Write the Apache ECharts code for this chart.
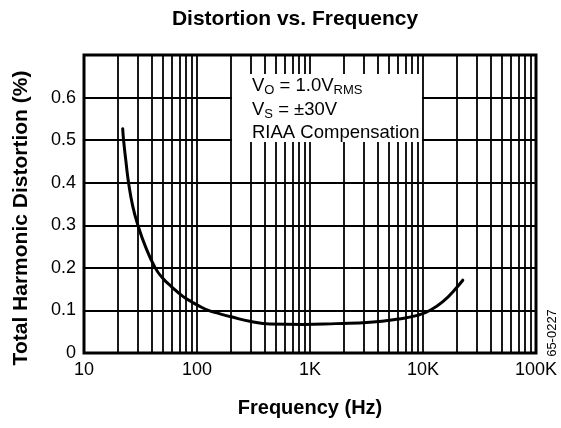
<!DOCTYPE html>
<html>
<head>
<meta charset="utf-8">
<script src="https://cdn.jsdelivr.net/npm/echarts@6/dist/echarts.min.js"></script>
<style>
html,body{margin:0;padding:0;background:#fff;}
#c{width:561px;height:428px;}
</style>
</head>
<body>
<div id="c"></div>
<script>
// ---- data ----
const freqHz = [22, 22.4, 23.5, 24.8, 27, 30, 35, 42.7, 50, 60, 75, 90, 100, 126, 160, 200, 300, 440, 870, 1700, 3400, 6100, 9100, 11700, 15500, 19000, 22500];
const thdPct = [0.527, 0.50, 0.45, 0.40, 0.345, 0.30, 0.25, 0.20, 0.175, 0.155, 0.133, 0.12, 0.113, 0.10, 0.092, 0.085, 0.074, 0.068, 0.067, 0.069, 0.072, 0.08, 0.089, 0.101, 0.124, 0.148, 0.171];

const xTickValues = [10, 100, 1000, 10000, 100000];
const xTickLabels = ['10', '100', '1K', '10K', '100K'];
const yTickValues = [0, 0.1, 0.2, 0.3, 0.4, 0.5, 0.6];
const yTickLabels = ['0', '0.1', '0.2', '0.3', '0.4', '0.5', '0.6'];

const decades = [10, 100, 1000, 10000];
const minorMultipliers = [2, 3, 4, 5, 6, 7, 8, 9];

const titleText = 'Distortion vs. Frequency';
const xName = 'Frequency (Hz)';
const yName = 'Total Harmonic Distortion (%)';
const docId = '65-0227';

// ---- build ----
const minorLines = [];
decades.forEach(d => minorMultipliers.forEach(m => minorLines.push({ xAxis: d * m })));

const FONT = '"Liberation Sans", Arial, Helvetica, sans-serif';
const chart = echarts.init(document.getElementById('c'), null, { renderer: 'canvas' });

const gridStyle = { color: '#000', width: 1.8, type: 'solid' };

function txt(str, x, baseline, size) {
  return {
    type: 'text', z: 101, x: x, y: baseline - 0.32 * size,
    style: { text: str, font: size + 'px ' + FONT, fill: '#000', verticalAlign: 'middle', align: 'left' }
  };
}

chart.setOption({
  animation: false,
  backgroundColor: '#fff',
  title: {
    text: titleText,
    left: 290,
    top: 4,
    textAlign: 'center',
    textStyle: { fontFamily: FONT, fontSize: 21, fontWeight: 'bold', color: '#000' }
  },
  grid: {
    left: 84, right: 25, top: 55, bottom: 75,
    show: true, borderColor: '#000', borderWidth: 3, backgroundColor: 'transparent'
  },
  xAxis: {
    type: 'log', logBase: 10, min: 10, max: 100000,
    name: xName, nameLocation: 'middle', nameGap: 45,
    nameTextStyle: { fontFamily: FONT, fontSize: 20, fontWeight: 'bold', color: '#000' },
    axisLine: { show: false }, axisTick: { show: false },
    axisLabel: {
      fontFamily: FONT, fontSize: 18, color: '#000', margin: 8,
      formatter: v => {
        const i = xTickValues.findIndex(t => Math.abs(t - v) / t < 1e-6);
        return i >= 0 ? xTickLabels[i] : '';
      }
    },
    splitLine: { show: true, lineStyle: gridStyle }
  },
  yAxis: {
    type: 'value', min: 0, max: 0.7, interval: 0.1,
    name: yName, nameLocation: 'middle', nameGap: 52,
    nameTextStyle: { fontFamily: FONT, fontSize: 21, fontWeight: 'bold', color: '#000', padding: [0, 0, 0, -28] },
    axisLine: { show: false }, axisTick: { show: false },
    axisLabel: {
      fontFamily: FONT, fontSize: 18, color: '#000', margin: 8,
      formatter: v => {
        const i = yTickValues.findIndex(t => Math.abs(t - v) < 1e-6);
        return i >= 0 ? yTickLabels[i] : '';
      }
    },
    splitLine: { show: true, lineStyle: gridStyle }
  },
  series: [{
    type: 'line',
    data: freqHz.map((f, i) => [f, thdPct[i]]),
    smooth: 0.5,
    showSymbol: false,
    symbol: 'none',
    lineStyle: { color: '#000', width: 3, cap: 'round', join: 'round' },
    z: 5,
    markLine: {
      silent: true, symbol: ['none', 'none'], label: { show: false },
      lineStyle: gridStyle, emphasis: { disabled: true },
      data: minorLines
    }
  }],
  graphic: [
    { type: 'rect', z: 100, shape: { x: 232, y: 74, width: 190, height: 68 }, style: { fill: '#fff' } },
    txt('V', 252, 92, 18.5),
    txt('O', 264.3, 95, 13),
    txt(' = 1.0V', 274.4, 92, 18.5),
    txt('RMS', 333.5, 95, 13),
    txt('V', 252, 115.5, 18.5),
    txt('S', 264.3, 118.5, 13),
    txt(' = \u00b130V', 273, 115.5, 18.5),
    txt('RIAA Compensation', 252, 139, 18.5),
    { type: 'text', z: 101, x: 552, y: 333, rotation: Math.PI / 2,
      style: { text: docId, font: '13px ' + FONT, fill: '#000', align: 'center', verticalAlign: 'middle' } }
  ]
});
</script>
</body>
</html>
